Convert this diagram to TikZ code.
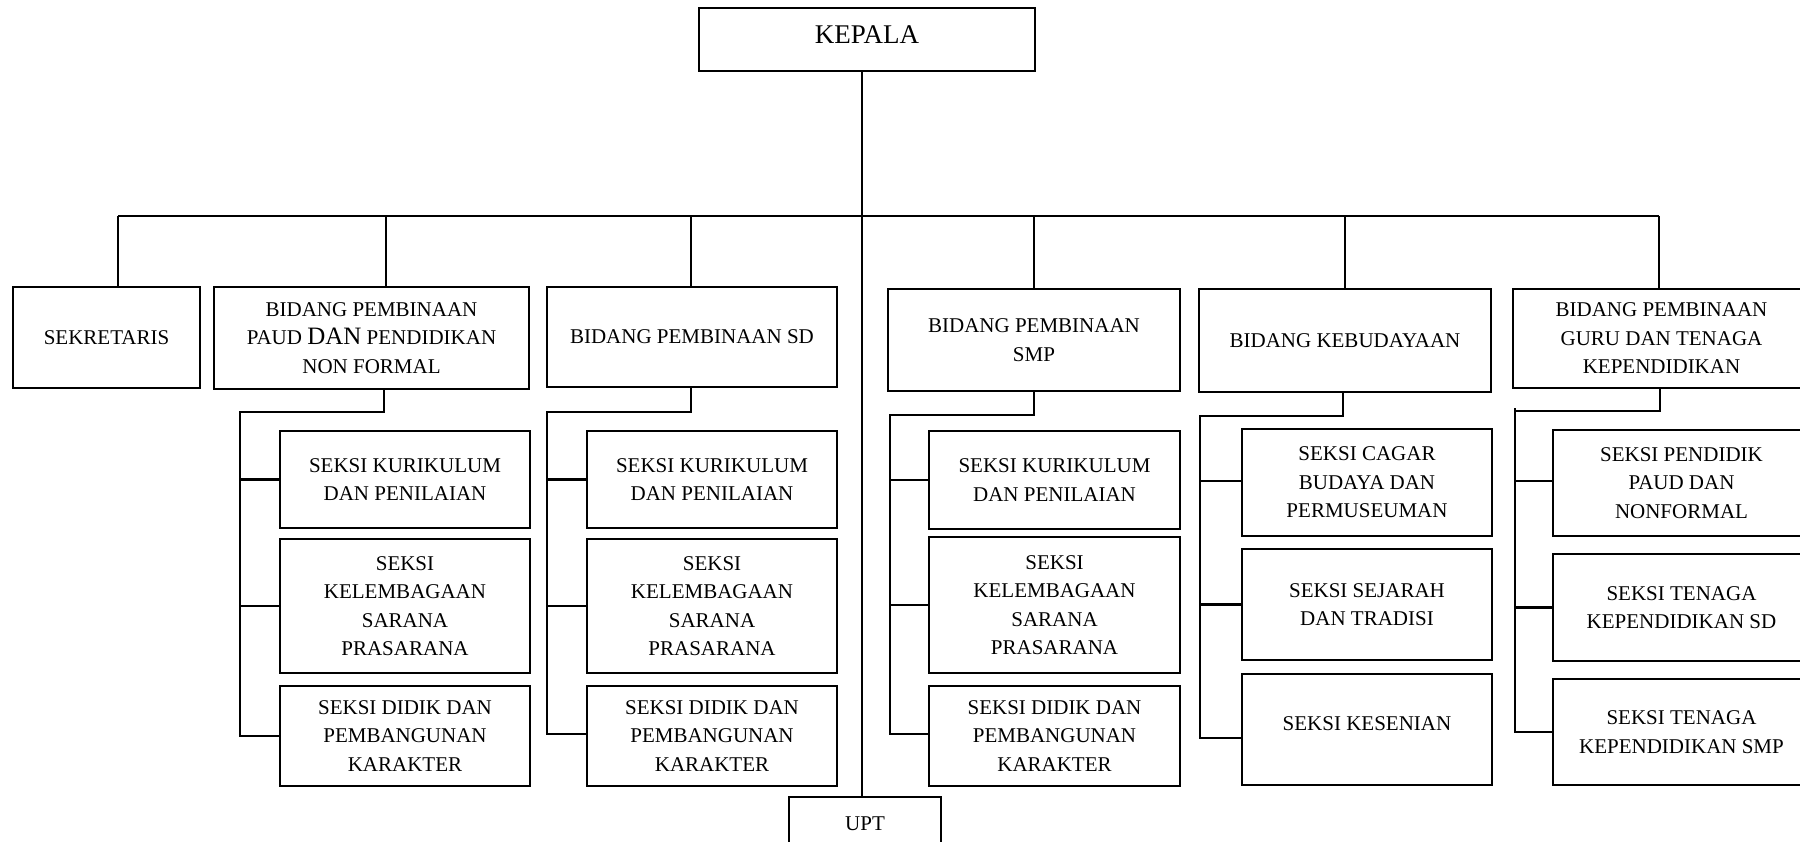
\documentclass[tikz,border=0pt]{standalone}
\usepackage{fontspec}
\setmainfont{Liberation Serif}
\begin{document}
\begin{tikzpicture}[x=1pt,y=-1pt,
  box/.style={draw=black, line width=1.5pt, rectangle, inner sep=0pt, align=center,
    font=\fontsize{21}{28.5}\selectfont},
  bus/.style={line width=2.2pt},
  thin/.style={line width=1.3pt},
  brk/.style={line width=2.2pt}]
\useasboundingbox (0,0) rectangle (1800,842);
\clip (0,0) rectangle (1800,842);
% top
\node[box, minimum width=336pt, minimum height=63pt, font=\fontsize{27}{30}\selectfont, text height=18pt, text depth=10pt] (kepala) at (867,39.5) {KEPALA};
% level 2
\node[box, minimum width=187pt, minimum height=101pt] (sek) at (106.5,337.5) {SEKRETARIS};
\node[box, minimum width=315pt, minimum height=102pt] (paud) at (371.5,338) {BIDANG PEMBINAAN\\PAUD {\fontsize{25}{28}\selectfont DAN} PENDIDIKAN\\NON FORMAL};
\node[box, minimum width=290pt, minimum height=100pt] (sd) at (692,337) {BIDANG PEMBINAAN SD};
\node[box, minimum width=292pt, minimum height=102pt] (smp) at (1034,340) {BIDANG PEMBINAAN\\SMP};
\node[box, minimum width=292pt, minimum height=103pt] (keb) at (1345,340.5) {BIDANG KEBUDAYAAN};
\node[box, minimum width=297pt, minimum height=99pt] (guru) at (1661.5,338.5) {BIDANG PEMBINAAN\\GURU DAN TENAGA\\KEPENDIDIKAN};
% UPT
\node[box, minimum width=152pt, minimum height=53pt] (upt) at (865,823.5) {UPT};
% PAUD column
\node[box, minimum width=250pt, minimum height=97pt] (k1) at (405,479.5) {SEKSI KURIKULUM\\DAN PENILAIAN};
\node[box, minimum width=250pt, minimum height=134pt] (l1) at (405,606) {SEKSI\\KELEMBAGAAN\\SARANA\\PRASARANA};
\node[box, minimum width=250pt, minimum height=100pt] (d1) at (405,736) {SEKSI DIDIK DAN\\PEMBANGUNAN\\KARAKTER};
% SD column
\node[box, minimum width=250pt, minimum height=97pt] (k2) at (712,479.5) {SEKSI KURIKULUM\\DAN PENILAIAN};
\node[box, minimum width=250pt, minimum height=134pt] (l2) at (712,606) {SEKSI\\KELEMBAGAAN\\SARANA\\PRASARANA};
\node[box, minimum width=250pt, minimum height=100pt] (d2) at (712,736) {SEKSI DIDIK DAN\\PEMBANGUNAN\\KARAKTER};
% SMP column
\node[box, minimum width=251pt, minimum height=98pt] (k3) at (1054.5,480) {SEKSI KURIKULUM\\DAN PENILAIAN};
\node[box, minimum width=251pt, minimum height=136pt] (l3) at (1054.5,605) {SEKSI\\KELEMBAGAAN\\SARANA\\PRASARANA};
\node[box, minimum width=251pt, minimum height=100pt] (d3) at (1054.5,736) {SEKSI DIDIK DAN\\PEMBANGUNAN\\KARAKTER};
% KEBUDAYAAN column
\node[box, minimum width=250pt, minimum height=107pt] (c4) at (1367,482.5) {SEKSI CAGAR\\BUDAYA DAN\\PERMUSEUMAN};
\node[box, minimum width=250pt, minimum height=111pt] (s4) at (1367,604.5) {SEKSI SEJARAH\\DAN TRADISI};
\node[box, minimum width=250pt, minimum height=111pt, text height=14pt, text depth=13pt] (e4) at (1367,729.5) {SEKSI KESENIAN};
% GURU column
\node[box, minimum width=257pt, minimum height=106pt] (p5) at (1681.5,483) {SEKSI PENDIDIK\\PAUD DAN\\NONFORMAL};
\node[box, minimum width=257pt, minimum height=107pt] (t5) at (1681.5,607.5) {SEKSI TENAGA\\KEPENDIDIKAN SD};
\node[box, minimum width=257pt, minimum height=106pt] (m5) at (1681.5,732) {SEKSI TENAGA\\KEPENDIDIKAN SMP};
% trunk and bus
\coordinate (t) at (862,216);
\coordinate (bl) at (118,216);
\coordinate (br) at (1659,216);
\draw[thin] (t |- kepala.south) -- (t |- upt.north);
\draw[bus] (bl) -- (br);
\draw[thin] (bl) -- (bl |- sek.north);
\draw[thin] (386,216) -- (386,0 |- paud.north);
\draw[thin] (691,216) -- (691,0 |- sd.north);
\draw[thin] (1034,216) -- (1034,0 |- smp.north);
\draw[thin] (1345,216) -- (1345,0 |- keb.north);
\draw[thin] (br) -- (br |- guru.north);
% PAUD bracket
\coordinate (a1) at (384,412);
\coordinate (b1) at (240,412);
\draw[brk] (a1 |- paud.south) -- (a1) -- (b1) -- (b1 |- d1.west) -- (d1.west);
\draw[brk] (b1 |- k1.west) -- (k1.west);
\draw[brk] (b1 |- l1.west) -- (l1.west);
% SD bracket
\coordinate (a2) at (691,412);
\coordinate (b2) at (547,412);
\draw[brk] (a2 |- sd.south) -- (a2) -- (b2) -- (b2 |- 0,734) -- (d2.west |- 0,734);
\draw[brk] (b2 |- k2.west) -- (k2.west);
\draw[brk] (b2 |- l2.west) -- (l2.west);
% SMP bracket
\coordinate (a3) at (1034,415);
\coordinate (b3) at (890,415);
\draw[brk] (a3 |- smp.south) -- (a3) -- (b3) -- (b3 |- 0,734) -- (d3.west |- 0,734);
\draw[brk] (b3 |- k3.west) -- (k3.west);
\draw[brk] (b3 |- l3.west) -- (l3.west);
% KEBUDAYAAN bracket
\coordinate (a4) at (1343,416);
\coordinate (b4) at (1200,416);
\draw[brk] (a4 |- keb.south) -- (a4) -- (b4) -- (b4 |- 0,738) -- (e4.west |- 0,738);
\draw[brk] (b4 |- 0,481) -- (c4.west |- 0,481);
\draw[brk] (b4 |- s4.west) -- (s4.west);
% GURU bracket
\coordinate (a5) at (1660,411);
\coordinate (b5) at (1515,411);
\draw[brk] (a5 |- guru.south) -- (a5) -- (b5);
\draw[brk] (1515,408) -- (b5 |- m5.west) -- (m5.west);
\draw[brk] (b5 |- 0,481) -- (p5.west |- 0,481);
\draw[brk] (b5 |- t5.west) -- (t5.west);
\end{tikzpicture}
\end{document}
